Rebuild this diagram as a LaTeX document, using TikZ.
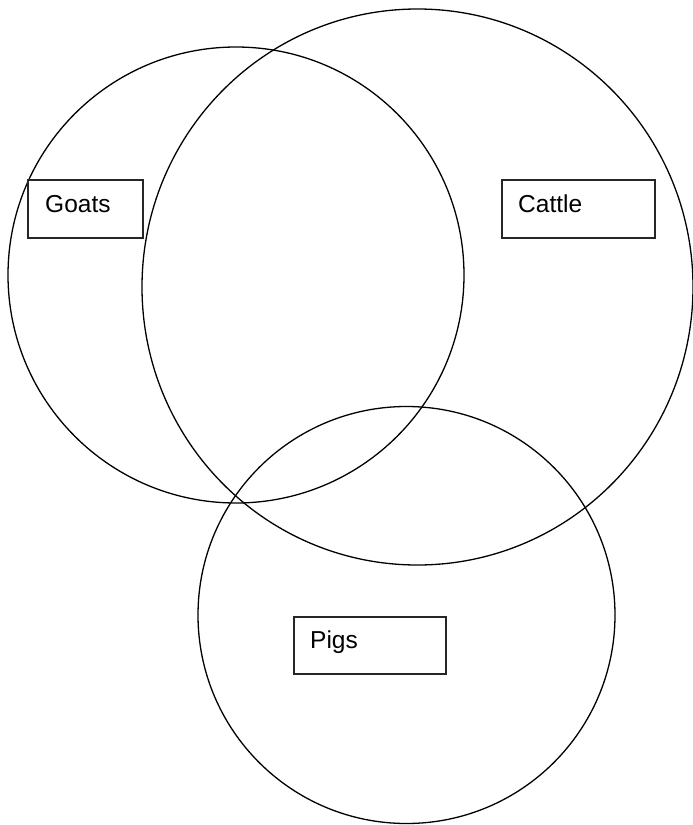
\documentclass[tikz,border=0pt]{standalone}
\usepackage{fontspec}
\setmainfont{Liberation Sans}
\begin{document}
\begin{tikzpicture}[x=1pt, y=-1pt,
  ring/.style={draw=black, line width=1.3pt},
  labelbox/.style={draw=black!85, fill=white, line width=1.5pt, rectangle,
    inner sep=0pt, anchor=north west},
  labeltext/.style={anchor=base west, inner sep=0pt,
    font=\fontsize{24.5}{29}\selectfont}]
  \useasboundingbox (0,0) rectangle (693,825);

  % set centres
  \coordinate (goatsc) at (236,275);
  \coordinate (cattlec) at (417.5,287);
  \coordinate (pigsc) at (406.5,615);

  % the three sets
  \draw[ring] (goatsc) circle [radius=228];
  \draw[ring] (cattlec) ellipse [x radius=275.5, y radius=278];
  \draw[ring] (pigsc) circle [radius=208.5];

  % set labels
  \node[labelbox, minimum width=115pt, minimum height=58pt] (goatsbox) at (27,179) {};
  \node[labeltext] (goats) at ([xshift=18pt, yshift=-33pt]goatsbox.north west) {Goats};

  \node[labelbox, minimum width=153pt, minimum height=58pt] (cattlebox) at (501,179) {};
  \node[labeltext] (cattle) at ([xshift=17pt, yshift=-33pt]cattlebox.north west) {Cattle};

  \node[labelbox, minimum width=152pt, minimum height=57pt] (pigsbox) at (293,616) {};
  \node[labeltext] (pigs) at ([xshift=17pt, yshift=-32pt]pigsbox.north west) {Pigs};
\end{tikzpicture}
\end{document}
